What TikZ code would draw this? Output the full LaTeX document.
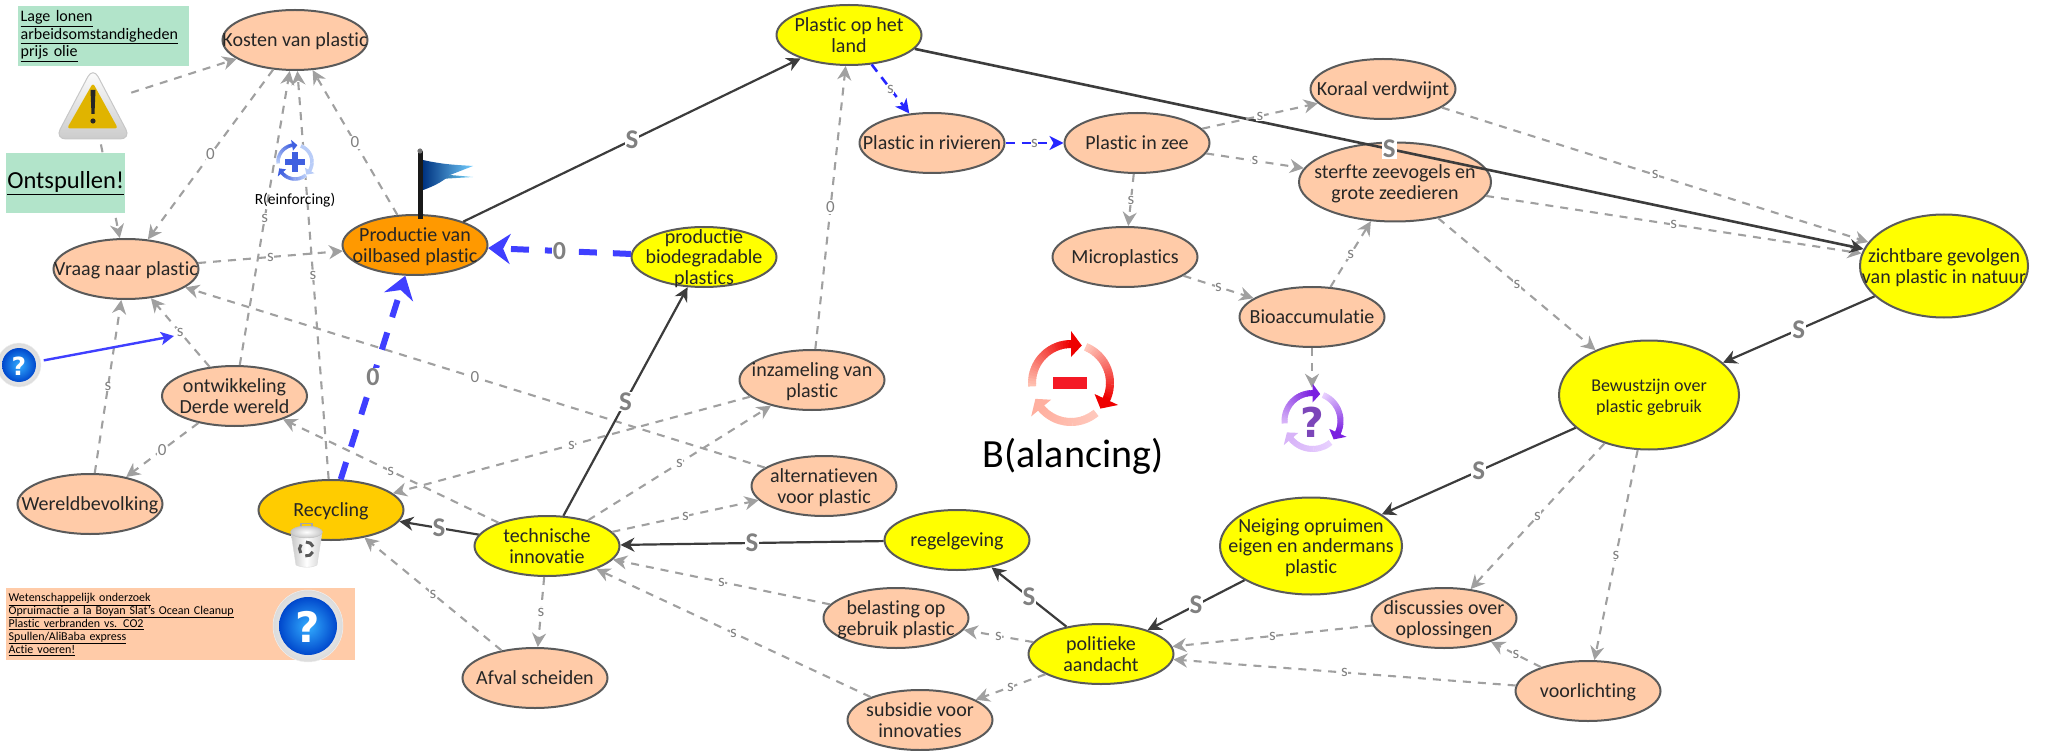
\documentclass[tikz,border=0pt]{standalone}
\usepackage{fontspec}
\setmainfont[Ligatures={NoCommon,NoContextual}]{Carlito}
\newfontfamily\qfont{DejaVu Sans}
\usetikzlibrary{shapes.geometric,arrows.meta}
\definecolor{peach}{HTML}{FFCBA8}
\definecolor{yell}{HTML}{FFFF00}
\definecolor{orng}{HTML}{FF9900}
\definecolor{gold}{HTML}{FFCC00}
\definecolor{mint}{HTML}{B2E4CA}
\definecolor{bord}{HTML}{5A5A5A}
\definecolor{gedge}{HTML}{A0A0A0}
\definecolor{dedge}{HTML}{3C3C3C}
\definecolor{bedge}{HTML}{3F3FFF}
\definecolor{bedgeb}{HTML}{2626FF}
\definecolor{lbl}{HTML}{808080}
\definecolor{rdA}{HTML}{FFC0B0}\definecolor{rdB}{HTML}{EE0000}
\definecolor{rdC}{HTML}{FFC8BC}\definecolor{rdD}{HTML}{FFB0A0}
\definecolor{puA}{HTML}{E8D0FF}\definecolor{puB}{HTML}{7A1FE0}\definecolor{puC}{HTML}{D8B4F8}
\definecolor{blA}{HTML}{B8CCF8}\definecolor{blB}{HTML}{4060E0}
\newcommand{\ct}[1]{\smash{\makebox[0pt]{\raisebox{-.4em}{\begin{tabular}{@{}c@{}}#1\end{tabular}}}}}
% start, end, colour 1, colour 2, radius, line width, head half-width, head degrees
\newcommand{\cycarc}[8]{%
  \foreach \i in {0,...,23}{%
    \pgfmathsetmacro{\aa}{#1+(#2-#1)*\i/24}%
    \pgfmathsetmacro{\bb}{#1+(#2-#1)*(\i+1.2)/24}%
    \pgfmathtruncatemacro{\pp}{100*\i/23}%
    \draw[line width=#6,color={#4!\pp!#3}] (\aa:#5) arc[start angle=\aa,end angle=\bb,radius=#5];
  }
  \fill[#4] ({#2}:{#5+#7}) -- ({#2-#8}:#5) -- ({#2}:{#5-#7}) -- cycle;
}
\newcommand{\qicon}[5]{% x,y,rx,ry,size
  \shade[inner color=white,outer color=black!14,draw=black!6,line width=.5pt] (#1,#2) ellipse[x radius=#3,y radius=#4];
  \shade[inner color=blue!40!cyan!80!white,outer color=blue!65!cyan!80!black] (#1,#2) circle[radius=#5];
}
\tikzset{
  el/.style={ellipse,draw=bord,line width=2pt,inner sep=0pt,minimum width=145pt,minimum height=60pt,font=\fontsize{20}{20.5}\selectfont,text=black!85},
  pe/.style={el,fill=peach},
  ye/.style={el,fill=yell},
  ge/.style={draw=gedge,line width=2.1pt,dash pattern=on 8pt off 7pt,-{Stealth[length=14pt,width=14pt,inset=4.5pt]}},
  de/.style={draw=dedge,line width=2.2pt,-{Stealth[length=14pt,width=14pt,inset=4.5pt]}},
  be/.style={draw=bedgeb,line width=2.6pt,dash pattern=on 9pt off 7pt,-{Stealth[length=14pt,width=14pt,inset=4pt]}},
  te/.style={draw=bedge,line width=6pt,dash pattern=on 18pt off 16pt,-{Stealth[length=22pt,width=30pt,inset=7pt]}},
  sl/.style={fill=white,inner sep=.6pt,text=lbl,font=\fontsize{17}{17}\selectfont},
  bl/.style={fill=white,inner sep=1pt,text=lbl,font=\bfseries\fontsize{27}{27}\selectfont},
  ol/.style={fill=white,inner sep=1pt,text=lbl,font=\bfseries\fontsize{26}{26}\selectfont},
  boxn/.style={rectangle,inner sep=0pt,anchor=north west,align=left},
}
\begin{document}
\begin{tikzpicture}[x=1pt,y=-1pt]
\clip (0,0) rectangle (2055,751);
\useasboundingbox (0,0) rectangle (2055,751);
% nodes
\node[pe] (kosten) at (295,40) {\ct{Kosten van plastic}};
\node[pe] (vraag) at (126,269) {\ct{Vraag naar plastic}};
\node[el,fill=orng] (prod) at (415,245) {\ct{Productie van\\oilbased plastic}};
\node[pe] (ontw) at (234.5,396) {\ct{ontwikkeling\\Derde wereld}};
\node[pe] (wereld) at (90,504) {\ct{Wereldbevolking}};
\node[el,fill=gold] (recy) at (331,510) {\ct{Recycling}};
\node[ye] (tech) at (547,546) {\ct{technische\\innovatie}};
\node[pe] (afval) at (535,678) {\ct{Afval scheiden}};
\node[ye] (land) at (849,35) {\ct{Plastic op het\\land}};
\node[pe] (riv) at (932,143) {\ct{Plastic in rivieren}};
\node[pe] (zee) at (1137,143) {\ct{Plastic in zee}};
\node[pe] (micro) at (1125,257) {\ct{Microplastics}};
\node[ye] (bio) at (704,257) {\ct{productie\\biodegradable\\plastics}};
\node[pe] (inz) at (812,380) {\ct{inzameling van\\plastic}};
\node[pe] (accu) at (1312,317) {\ct{Bioaccumulatie}};
\node[pe] (kor) at (1383,89) {\ct{Koraal verdwijnt}};
\node[pe,minimum width=192pt,minimum height=79pt] (sterf) at (1395,182) {\ct{sterfte zeevogels en\\grote zeedieren}};
\node[ye,minimum width=168pt,minimum height=103pt] (zicht) at (1944,266) {\ct{zichtbare gevolgen\\van plastic in natuur}};
\node[ye,minimum width=180pt,minimum height=109pt,font=\fontsize{18}{20.5}\selectfont] (bew) at (1649,395) {\ct{Bewustzijn over\\plastic gebruik}};
\node[ye,minimum width=182pt,minimum height=97pt] (neig) at (1311,546) {\ct{Neiging opruimen\\eigen en andermans\\plastic}};
\node[ye] (reg) at (957,540) {\ct{regelgeving}};
\node[pe] (bel) at (896,618) {\ct{belasting op\\gebruik plastic}};
\node[ye] (pol) at (1101,654) {\ct{politieke\\aandacht}};
\node[pe] (sub) at (920,720) {\ct{subsidie voor\\innovaties}};
\node[pe] (disc) at (1444,618) {\ct{discussies over\\oplossingen}};
\node[pe] (voor) at (1588,691) {\ct{voorlichting}};
\node[pe] (alt) at (824,486) {\ct{alternatieven\\voor plastic}};
% anchors for icons
\node[circle,inner sep=0pt,minimum size=80pt] (warn) at (93,105) {};
\node[circle,inner sep=0pt,minimum size=50pt] (qleft) at (19,365) {};
\coordinate (bluefree) at (174,336);
\node[circle,inner sep=0pt,minimum size=66pt] (purple) at (1312,421) {};
% connectors
\draw[ge] (warn) -- (kosten);
\draw[ge] (warn) -- (vraag);
\draw[ge] (kosten) -- node[sl]{0} (vraag);
\draw[ge] (ontw) -- node[sl]{s} (kosten);
\draw[ge] (recy) -- node[sl]{s} (kosten);
\draw[ge] (prod) -- node[sl]{0} (kosten);
\draw[ge] (vraag) -- node[sl]{s} (prod);
\draw[ge] (ontw) -- node[sl]{s} (vraag);
\draw[ge] (wereld) -- node[sl]{s} (vraag);
\draw[ge] (ontw) -- node[sl]{0} (wereld);
\draw[ge] (alt) -- node[sl]{0} (vraag);
\draw[draw=bedge,line width=2.4pt,-{Stealth[length=13pt,width=13pt,inset=3pt]}] (qleft) -- (bluefree);
\draw[te] (recy) -- node[ol]{0} (prod);
\draw[te] (bio) -- node[ol]{0} (prod);
\draw[de] (tech) -- node[bl]{S} (recy);
\draw[ge] (tech) -- node[sl]{s} (ontw);
\draw[ge] (tech) -- node[sl]{s} (afval);
\draw[ge] (afval) -- node[sl]{s} (recy);
\draw[ge] (inz) -- node[sl]{s} (recy);
\draw[ge] (tech) -- node[sl]{s} (inz);
\draw[ge] (tech) -- node[sl]{s} (alt);
\draw[de] (tech) -- node[bl]{S} (bio);
\draw[de] (reg) -- node[bl]{S} (tech);
\draw[ge] (bel) -- node[sl]{s} (tech);
\draw[ge] (sub) -- node[sl]{s} (tech);
\draw[de] (pol) -- node[bl]{S} (reg);
\draw[ge] (pol) -- node[sl]{s} (bel);
\draw[ge] (pol) -- node[sl]{s} (sub);
\draw[de] (neig) -- node[bl]{S} (pol);
\draw[ge] (disc) -- node[sl]{s} (pol);
\draw[ge] (voor) -- node[sl]{s} (pol);
\draw[ge] (voor) -- node[sl]{s} (disc);
\draw[ge] (bew) -- node[sl]{s} (disc);
\draw[ge] (bew) -- node[sl]{s} (voor);
\draw[de] (bew) -- node[bl]{S} (neig);
\draw[de] (zicht) -- node[bl]{S} (bew);
\draw[ge] (sterf) -- node[sl]{s} (bew);
\draw[ge] (sterf) -- node[sl]{s} (zicht);
\draw[ge] (kor) -- node[sl]{s} (zicht);
\draw[de,line width=2.6pt] (land) -- node[bl]{S} (zicht);
\draw[de] (prod) -- node[bl]{S} (land);
\draw[ge] (inz) -- node[sl]{0} (land);
\draw[be] (land) -- node[sl]{s} (riv);
\draw[be] (riv) -- node[sl]{s} (zee);
\draw[ge] (zee) -- node[sl]{s} (kor);
\draw[ge] (zee) -- node[sl]{s} (sterf);
\draw[ge] (zee) -- node[sl]{s} (micro);
\draw[ge] (micro) -- node[sl]{s} (accu);
\draw[ge] (accu) -- node[sl]{s} (sterf);
\draw[ge] (accu) -- (purple);
% note boxes
\node[boxn,fill=mint,minimum width=171pt,minimum height=60pt,text width=166pt,inner xsep=2.5pt,font=\fontsize{16}{17.5}\selectfont] (note1) at (18,6) {\underline{Lage lonen}\\\underline{arbeidsomstandigheden}\\\underline{prijs olie}};
\node[boxn,fill=mint,minimum width=119pt,minimum height=60pt,align=center,font=\fontsize{24.5}{25}\selectfont] (note2) at (6,153) {\underline{Ontspullen!}};
\node[boxn,fill=peach,minimum width=349pt,minimum height=72pt,text width=344pt,inner xsep=2.5pt,font=\fontsize{12}{13}\selectfont] (note3) at (6,588) {\underline{Wetenschappelijk onderzoek}\\\underline{Opruimactie a la Boyan Slat's Ocean Cleanup}\\\underline{Plastic verbranden vs. CO2}\\\underline{Spullen/AliBaba express}\\\underline{Actie voeren!}};
% warning icon
\shade[top color=white,bottom color=black!20,draw=black!22,line width=1pt,rounded corners=11pt] (93,67) -- (131,139) -- (55,139) -- cycle;
\fill[gold!88!black,rounded corners=3pt] (93,83) -- (118,128.5) -- (67,128.5) -- cycle;
\fill[black!85] (90.5,90) -- (95.5,90) -- (94.5,114) -- (91.5,114) -- cycle;
\fill[black!85] (93,121) circle[radius=2.6];
% question icons
\qicon{19}{365}{22}{22}{17}
\node[font=\qfont\bfseries\fontsize{25}{25}\selectfont,text=white,inner sep=0pt] (q1) at (19,366) {?};
\qicon{308}{626}{35}{36}{29}
\node[font=\qfont\bfseries\fontsize{42}{42}\selectfont,text=white,inner sep=0pt] (q2) at (308,627) {?};
% reinforcing icon
\begin{scope}[shift={(295,162)},yscale=-1]
  \fill[white] (0,0) circle[radius=19];
  \cycarc{185}{100}{blA}{blB}{17}{3.5pt}{5.5}{18}
  \cycarc{70}{-30}{blA}{blA}{17}{3.5pt}{5.5}{18}
  \cycarc{-50}{-140}{blA}{blB}{17}{3.5pt}{5.5}{18}
  \fill[blB] (-10,-2.6) rectangle (10,2.6);
  \fill[blB] (-2.6,-10) rectangle (2.6,10);
\end{scope}
\node[inner sep=0pt,font=\fontsize{15.5}{15.5}\selectfont] (rlab) at (295,200) {R(einforcing)};
% flag
\fill[black!90] (417.5,151) rectangle (422.5,219);
\fill[black!55] (420,151) circle[radius=2.6];
\shade[left color=blue!55!cyan!45!black,right color=blue!30!cyan!55!white] (423,180) -- (473,177) -- (450,175) -- (423,190) -- cycle;
\shade[left color=blue!60!cyan!50!black,right color=blue!35!cyan!55!white] (423,160) .. controls (445,165) and (460,165) .. (473,166) -- (450,175) .. controls (445,180) and (435,186) .. (423,190) -- cycle;
% trash
\draw[black!35,line width=1.2pt] (301,528) -- (301,523.5) -- (312,523.5) -- (312,528);
\shade[left color=black!22,right color=black!18,middle color=white,draw=black!15] (291,533) -- (296,565) .. controls (302,568) and (312,568) .. (317,565) -- (322,533) -- cycle;
\shade[inner color=white,outer color=black!22,draw=black!25] (306.5,532) ellipse[x radius=16,y radius=6];
\begin{scope}[shift={(306.5,549)},yscale=-1]
  \foreach \r in {95,215,335}{
    \draw[black!65,line width=3pt] (\r:7) arc[start angle=\r,end angle=\r-75,radius=7];
  }
\end{scope}
% balancing icon
\begin{scope}[shift={(1071,383)},yscale=-1]
  \cycarc{185}{90}{rdA}{rdB}{39}{8pt}{13}{16}
  \cycarc{68}{-25}{rdC}{rdB}{39}{8pt}{13}{16}
  \cycarc{-50}{-140}{rdC}{rdD}{39}{8pt}{13}{16}
  \fill[red!80!purple!90!white] (-18,-6) rectangle (16,6);
\end{scope}
\node[inner sep=0pt,font=\fontsize{40}{40}\selectfont] (blab) at (1073,456) {B(alancing)};
% unknown loop icon
\begin{scope}[shift={(1312.5,421)},yscale=-1]
  \cycarc{185}{90}{puC}{puB}{28}{6pt}{9.5}{16}
  \cycarc{68}{-25}{puA}{puB}{28}{6pt}{9.5}{16}
  \cycarc{-50}{-140}{puA}{puC}{28}{6pt}{9.5}{16}
\end{scope}
\node[font=\qfont\bfseries\fontsize{41}{41}\selectfont,text=puB!60!gray,inner sep=0pt] (q3) at (1312,422) {?};
\end{tikzpicture}
\end{document}
